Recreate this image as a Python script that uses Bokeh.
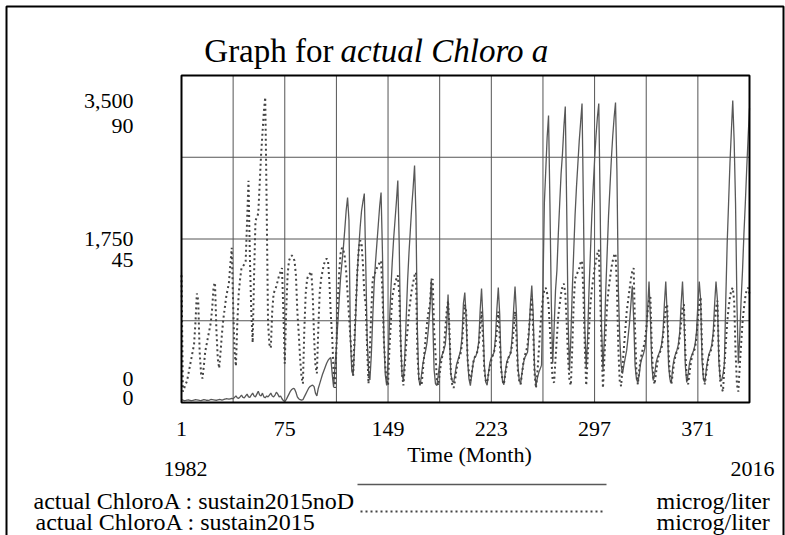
from bokeh.plotting import figure
from bokeh.models import Range1d, Label
from bokeh.embed import file_html
from bokeh.resources import INLINE

# ---------------- data ----------------
first_month = 1
last_month = 408
x_tick_labels = [1, 75, 149, 223, 297, 371]
grid_months = [1, 38, 75, 112, 149, 186, 223, 260, 297, 334, 371, 408]
solid_grid_values = [875, 1750, 2625]
solid_axis_labels = ["3,500", "1,750", "0"]
dotted_axis_labels = ["90", "45", "0"]
solid_max = 3500
dotted_max = 90
start_year_label = "1982"
end_year_label = "2016"
x_axis_title = "Time (Month)"
series_names = ["actual ChloroA : sustain2015noD", "actual ChloroA : sustain2015"]
units = ["microg/liter", "microg/liter"]

# actual ChloroA : sustain2015noD  (left scale 0-3,500), one row per year, 12 months each
sustain2015noD_by_year = [
    [30, 25, 20, 22, 25, 28, 24, 20, 22, 26, 30, 28],
    [25, 22, 20, 25, 30, 28, 24, 22, 26, 32, 30, 28],
    [26, 24, 28, 32, 30, 26, 30, 36, 40, 38, 35, 40],
    [45, 40, 55, 70, 50, 45, 60, 80, 55, 50, 70, 90],
    [60, 55, 80, 100, 70, 60, 90, 120, 80, 70, 100, 60],
    [50, 70, 60, 80, 100, 70, 60, 80, 110, 90, 60, 70],
    [40, 20, 10, 30, 60, 90, 120, 140, 150, 145, 110, 60],
    [40, 30, 25, 30, 60, 90, 120, 150, 170, 180, 185, 170],
    [100, 70, 150, 200, 250, 300, 340, 380, 420, 450, 470, 480],
    [300, 160, 400, 600, 850, 1100, 1340, 1500, 1660, 1850, 2055, 2194],
    [1950, 700, 340, 290, 600, 1000, 1400, 1650, 1870, 2050, 2150, 2237],
    [1500, 700, 340, 240, 500, 900, 1250, 1500, 1700, 1900, 2100, 2248],
    [1600, 700, 300, 182, 450, 850, 1200, 1500, 1750, 1950, 2150, 2376],
    [1700, 700, 300, 235, 500, 900, 1300, 1600, 1850, 2100, 2300, 2537],
    [2000, 800, 250, 182, 300, 420, 500, 560, 650, 800, 1000, 1327],
    [900, 350, 200, 182, 300, 420, 480, 520, 560, 620, 800, 1156],
    [700, 300, 230, 214, 300, 400, 450, 500, 560, 700, 1060, 1177],
    [900, 450, 250, 180, 300, 420, 480, 500, 550, 650, 985, 1220],
    [900, 400, 220, 185, 320, 430, 480, 500, 540, 700, 1000, 1230],
    [950, 400, 230, 190, 320, 430, 470, 500, 530, 720, 1000, 1241],
    [950, 400, 240, 200, 320, 420, 480, 510, 540, 750, 1050, 1252],
    [950, 350, 182, 260, 320, 360, 400, 1230, 2130, 2480, 2836, 3072],
    [2130, 1060, 417, 800, 1200, 1413, 1800, 2130, 2450, 2665, 2950, 3168],
    [2100, 900, 340, 700, 1200, 1600, 2000, 2300, 2550, 2800, 3000, 3200],
    [2100, 800, 375, 700, 1200, 1600, 2000, 2300, 2600, 2850, 3050, 3200],
    [2100, 800, 350, 700, 1200, 1600, 2000, 2300, 2600, 2850, 3050, 3211],
    [2480, 1230, 700, 400, 310, 400, 480, 560, 700, 850, 1050, 1250],
    [900, 400, 250, 214, 300, 420, 480, 520, 580, 700, 1000, 1295],
    [900, 400, 235, 300, 420, 480, 520, 560, 620, 750, 1050, 1295],
    [950, 400, 250, 214, 380, 470, 520, 560, 620, 750, 1050, 1295],
    [950, 400, 214, 300, 420, 480, 520, 560, 620, 750, 1050, 1295],
    [1100, 450, 250, 214, 350, 450, 520, 560, 620, 750, 1050, 1295],
    [1100, 450, 250, 235, 300, 417, 1100, 1700, 2130, 2560, 2900, 3232],
    [2800, 2130, 1060, 417, 700, 1100, 1413, 1800, 2130, 2500, 2836, 3150],
]

# actual ChloroA : sustain2015  (second scale 0-90), one row per year, 12 months each
sustain2015_by_year = [
    [35, 3, 4, 5, 6, 8, 10, 12, 14, 16, 22, 30],
    [28, 14, 8, 6.6, 10, 14, 16, 18, 20, 22, 26, 32],
    [33, 20, 12, 9.4, 14, 19, 23, 26, 29, 31, 33, 38],
    [42.6, 27, 14, 10, 22, 30, 34, 37, 37.5, 38, 39, 50],
    [61, 40, 25, 16.5, 35, 50, 51, 52, 60, 68, 74, 80],
    [84, 55, 22, 16, 15, 25, 30, 31, 32, 33.6, 35, 36],
    [37, 25, 10.7, 25, 35, 39, 40, 40.5, 40, 39, 35, 25],
    [19, 12, 7, 5.2, 20, 30, 34, 35, 35.5, 36, 30, 18],
    [10, 8, 20, 30, 34, 36, 38, 39, 39.6, 39, 33, 24],
    [18, 8, 4, 15, 28, 36, 41, 42.6, 42, 40, 36, 30],
    [24, 18, 12, 7.4, 18, 27, 36, 42, 44.6, 44, 38, 30],
    [27, 15, 5.2, 15, 25, 34, 35, 36, 37, 37.7, 38.5, 39],
    [30, 17, 10, 6, 4.7, 15, 22, 29, 31, 33, 34, 35],
    [30, 17, 8, 4.7, 10, 16, 20, 25, 28, 31, 33, 35],
    [35.8, 13.5, 7, 5, 4.7, 9, 13.5, 18, 22, 25, 27, 33],
    [34, 20, 13.5, 6, 4.7, 8, 11, 13, 15, 20, 25, 28],
    [20, 8, 5, 4, 6, 9, 11, 12.5, 13.5, 16, 22, 27],
    [25, 12, 8, 6, 8, 11, 12.4, 13, 14, 16, 20, 25],
    [18, 9, 6, 5.5, 8, 10, 11.6, 13, 14, 16, 20, 25],
    [18, 9, 6, 5, 8, 10, 12, 13, 14, 16, 20, 25],
    [18, 9, 6, 5, 8, 11, 13, 14, 16, 20, 25, 29],
    [20, 8, 4, 8, 14, 20, 25, 29, 31, 31.6, 30, 27],
    [20, 12, 6, 5.5, 12, 18, 24, 27, 30, 32, 32.7, 30],
    [22, 12, 6, 4.7, 15, 27, 34, 35, 36, 37, 38.5, 39],
    [30, 15, 4.7, 12, 20, 27, 31, 34, 37, 39, 41, 42],
    [30, 15, 4, 12, 20, 27, 31, 34, 37, 39, 40.5, 41],
    [32, 15, 6, 4.5, 10, 15, 20, 25, 28, 31, 34, 36],
    [37, 20, 8, 5, 9, 12, 14, 15, 17, 20, 25, 28],
    [29, 15, 7, 5, 8, 11, 13, 14, 15, 18, 22, 26],
    [27, 14, 7, 5, 8, 11, 13, 14, 15, 18, 22, 26],
    [27, 14, 7, 5, 8, 11, 13, 14, 15, 18, 23, 27],
    [29, 15, 7, 5, 8, 11, 13, 14, 15, 18, 22, 26],
    [28, 14, 6, 4, 3, 10, 16, 22, 26, 29, 31, 31.6],
    [28, 14, 5, 3, 10, 16, 22, 26, 29, 31, 31.6, 30],
]

sustain2015noD = [v for row in sustain2015noD_by_year for v in row]
sustain2015 = [v for row in sustain2015_by_year for v in row]
months = list(range(first_month, last_month + 1))

# ---------------- layout (picture pixels) ----------------
OX, OY = 0, 0            # picture position of the canvas
W, H = 785, 535
FRAME_L, FRAME_R, FRAME_T, FRAME_B = 181, 749, 75, 402
SERIF = "Liberation Serif"
SOLID_COLOR = "#585858"
DOT_COLOR = "#444444"
GRID_COLOR = "#555555"

def to_x(px):
    return first_month + (px - FRAME_L) * (last_month - first_month) / (FRAME_R - FRAME_L)

def to_y(py):
    return (FRAME_B - py) * solid_max / (FRAME_B - FRAME_T)

def to_yd(py):
    return (FRAME_B - py) * dotted_max / (FRAME_B - FRAME_T)

p = figure(
    width=W, height=H,
    x_range=Range1d(to_x(OX), to_x(OX + W)),
    y_range=Range1d(to_y(OY + H), to_y(OY)),
    x_axis_location=None, y_axis_location=None,
    min_border=0,
    output_backend="svg", toolbar_location=None,
)
p.extra_y_ranges = {"dot": Range1d(to_yd(OY + H), to_yd(OY))}
p.grid.visible = False
p.outline_line_color = None
p.background_fill_color = "white"
p.border_fill_color = "white"

# grid of the plot box
n_v = len(grid_months)
p.segment(x0=grid_months, y0=[0] * n_v, x1=grid_months, y1=[solid_max] * n_v,
          line_color=GRID_COLOR, line_width=1)
n_h = len(solid_grid_values)
p.segment(x0=[first_month] * n_h, y0=solid_grid_values,
          x1=[last_month] * n_h, y1=solid_grid_values,
          line_color=GRID_COLOR, line_width=1)

# series
p.line(months, sustain2015noD, line_color=SOLID_COLOR, line_width=1.3)
p.line(months, sustain2015, y_range_name="dot", line_color=DOT_COLOR,
       line_width=2, line_dash="2 3")

# plot box
p.quad(left=[first_month], right=[last_month], bottom=[0], top=[solid_max],
       fill_color=None, line_color="black", line_width=2)

# outer border (left, top, right)
bx0, bx1, by0 = to_x(6), to_x(783), to_y(6)
by1 = to_y(OY + H + 5)
p.line([bx0, bx0, bx1, bx1], [by1, by0, by0, by1], line_color="black", line_width=2)

def add_text(px, py, text, size="22px", align="left", style="normal"):
    p.add_layout(Label(x=to_x(px), y=to_y(py), text=text, text_font=SERIF,
                       text_font_size=size, text_align=align,
                       text_baseline="alphabetic", text_color="black",
                       text_font_style=style))

# title
add_text(333, 50, "Graph for", size="33px", align="right")
add_text(340, 50, "actual Chloro a", size="33px", align="left", style="italic")

# left scale labels (two stacked scales)
add_text(133, 100, solid_axis_labels[0], align="right")
add_text(133, 125, dotted_axis_labels[0], align="right")
add_text(133, 238, solid_axis_labels[1], align="right")
add_text(133, 259, dotted_axis_labels[1], align="right")
add_text(133, 378, solid_axis_labels[2], align="right")
add_text(133, 397, dotted_axis_labels[2], align="right")

# x tick labels at their month values
for t in x_tick_labels:
    p.add_layout(Label(x=t, y=to_y(428), text=str(t), text_font=SERIF,
                       text_font_size="22px", text_align="center",
                       text_baseline="alphabetic", text_color="black"))
add_text(469, 454, x_axis_title, align="center")

# start / end year
add_text(185, 468, start_year_label, align="center")
add_text(752, 468, end_year_label, align="center")

# legend texts
add_text(33, 500, series_names[0], size="24px")
add_text(35, 521, series_names[1], size="24px")
add_text(656, 500, units[0], size="24px")
add_text(656, 521, units[1], size="24px")

# legend line samples
p.line([to_x(357), to_x(606)], [to_y(484), to_y(484)], line_color=SOLID_COLOR, line_width=1.3)
p.line([to_x(360), to_x(605)], [to_y(511), to_y(511)], line_color=DOT_COLOR,
       line_width=2, line_dash="2 3")

open("out.html", "w").write(file_html(p, INLINE))
